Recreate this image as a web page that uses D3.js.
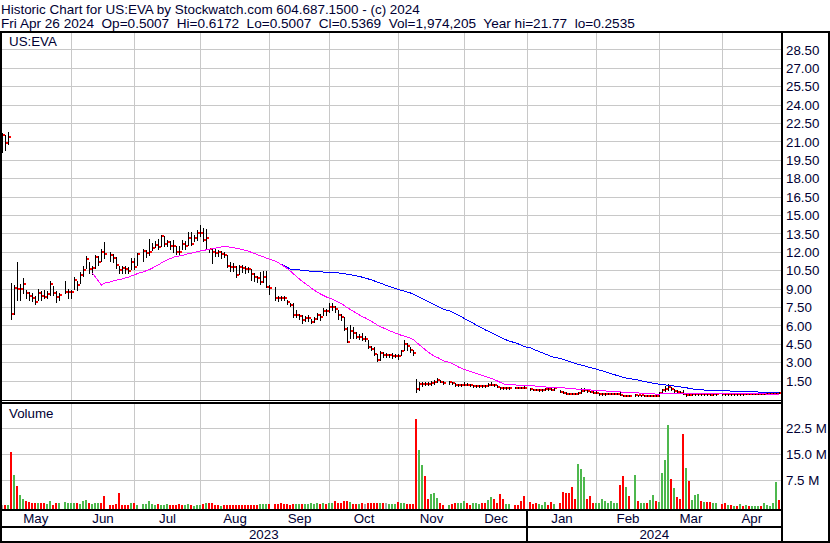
<!DOCTYPE html>
<html><head><meta charset="utf-8">
<script src="https://cdn.jsdelivr.net/npm/d3@7"></script>
<style>
html,body{margin:0;padding:0;background:#fff;}
svg{display:block;}
text{font-family:"Liberation Sans",Arial,sans-serif;font-size:13.33px;fill:#000033;white-space:pre;}
</style>
</head><body><svg id="c" width="830" height="543"></svg>
<script>
const titleLines = [
  "Historic Chart for US:EVA by Stockwatch.com 604.687.1500 - (c) 2024",
  "Fri Apr 26 2024  Op=0.5007  Hi=0.6172  Lo=0.5007  Cl=0.5369  Vol=1,974,205  Year hi=21.77  lo=0.2535"
];
const symbolLabel = "US:EVA";
const volumeLabel = "Volume";
const monthNames = ["May","Jun","Jul","Aug","Sep","Oct","Nov","Dec","Jan","Feb","Mar","Apr"];
const monthGridSlot = [23,44,66,89,109,132,154,175,198,219,240];
const yearNames = ["2023","2024"];
const yearStartSlot = 175;
const slotCount = 260;
const priceTicks = [1.5,3,4.5,6,7.5,9,10.5,12,13.5,15,16.5,18,19.5,21,22.5,24,25.5,27,28.5];
const volumeTicks = [7.5,15,22.5];
const maShortLen = 30;
const maLongLen = 90;

const high = [
21.7,21.6,21.77,9.5,9.3,11.2,9.4,9.9,8.9,8.8,
8.65,8.4,9.0,8.85,8.95,8.85,9.7,9.25,8.85,8.65,
null,9.7,9.0,8.9,10.0,9.7,10.4,10.9,11.7,11.2,
10.9,11.8,11.7,12.3,12.86,null,12.0,11.9,11.6,10.9,
10.9,10.9,10.8,11.5,11.5,11.95,null,12.25,12.2,13.1,
12.75,12.9,13.1,13.45,13.3,13.0,12.9,12.97,12.5,12.5,
12.97,12.9,13.68,13.68,13.4,13.8,14.22,13.95,13.9,12.3,
12.3,12.3,12.2,12.1,12.0,11.8,11.2,11.1,10.9,11.0,
11.0,10.9,10.8,10.67,10.3,10.1,10.4,10.5,10.5,9.3,
null,9.2,8.4,8.4,8.4,8.1,7.9,7.84,7.3,7.0,
6.9,6.8,6.9,6.6,6.75,7.05,7.0,7.5,7.4,7.84,
7.9,7.6,7.3,6.95,6.75,5.93,6.07,5.93,5.53,5.3,
5.4,5.2,4.85,4.35,4.3,3.75,3.95,3.85,3.8,3.75,
3.8,3.7,3.75,4.05,4.85,4.58,4.3,4.03,1.7,1.4,
1.4,1.45,1.4,1.5,1.55,1.75,1.6,1.5,null,1.5,
1.45,1.35,1.3,1.3,1.4,1.35,1.28,1.22,1.2,1.2,
1.18,1.18,1.35,1.42,1.3,1.2,1.05,1.0,1.0,1.02,
null,1.02,1.0,1.05,1.08,null,0.96,0.88,0.86,0.82,
0.84,0.92,0.9,0.9,0.95,null,0.78,0.66,0.58,0.55,
0.55,0.54,0.6,0.9,0.92,0.8,0.72,0.66,0.7,0.55,
0.5,0.52,0.55,0.55,0.55,0.52,0.6,0.4,0.38,0.34,
null,0.42,0.4,0.4,0.36,0.35,0.34,0.36,0.36,0.65,
0.85,1.1,1.26,1.05,0.88,0.75,0.68,0.75,0.5,0.45,
0.48,0.5,0.5,0.48,0.48,0.47,0.46,0.45,0.46,null,
0.48,0.46,0.48,0.46,0.47,0.45,0.47,0.46,0.48,0.5,
0.51,0.5,0.49,0.48,0.5,0.5,0.5,0.5,0.6,0.6172
];
const low = [
20.2,20.3,20.8,6.6,7.0,8.1,8.1,8.7,8.3,8.1,
8.0,7.8,8.1,8.1,8.25,8.25,8.5,8.5,7.95,8.1,
null,8.65,8.25,8.25,9.0,8.9,9.5,10.1,10.7,10.3,
10.2,10.7,11.0,11.3,11.5,null,11.3,11.2,10.7,10.3,
10.3,10.3,10.3,10.6,10.6,10.95,null,11.3,11.6,11.8,
12.15,12.4,12.3,12.5,12.5,12.5,12.3,12.02,11.9,11.9,
12.3,12.3,12.6,12.57,12.9,13.0,13.35,12.9,12.3,12.0,
11.1,11.7,11.7,11.5,11.6,10.8,10.5,10.5,10.0,10.2,
10.4,10.3,10.4,9.72,9.7,9.6,9.45,9.6,9.2,8.6,
null,8.1,8.05,8.1,8.1,7.8,7.6,6.75,6.75,6.6,
6.2,6.4,6.4,6.2,6.35,6.6,6.5,6.9,6.9,7.1,
7.3,7.1,6.6,6.5,5.66,4.7,4.98,4.98,4.98,4.95,
4.85,4.8,4.17,4.0,3.6,3.1,3.2,3.5,3.5,3.5,
3.4,3.45,3.3,3.6,4.0,4.03,3.9,3.63,0.64,0.8,
1.1,1.2,1.2,1.2,1.3,1.4,1.4,1.3,null,1.3,
1.25,1.12,1.1,1.1,1.15,1.15,1.1,1.05,1.05,1.04,
1.02,1.03,1.08,1.15,1.1,0.98,0.88,0.86,0.88,0.88,
null,0.9,0.9,0.9,0.9,null,0.8,0.75,0.74,0.72,
0.72,0.76,0.78,0.75,0.8,null,0.6,0.52,0.44,0.45,
0.42,0.44,0.44,0.55,0.66,0.65,0.6,0.52,0.5,0.4,
0.38,0.4,0.42,0.44,0.43,0.42,0.35,0.27,0.26,0.26,
null,0.3,0.32,0.3,0.27,0.27,0.2535,0.27,0.28,0.32,
0.55,0.7,0.8,0.75,0.65,0.6,0.52,0.45,0.32,0.35,
0.38,0.4,0.4,0.38,0.4,0.38,0.37,0.37,0.38,null,
0.39,0.38,0.4,0.39,0.4,0.38,0.39,0.4,0.41,0.42,
0.44,0.43,0.42,0.41,0.42,0.43,0.44,0.43,0.45,0.5007
];
const close = [
21.6,20.9,21.4,7.0,9.1,9.0,9.0,9.4,8.7,8.45,
8.3,7.95,8.7,8.45,8.35,8.6,9.45,8.7,8.35,8.5,
null,8.8,8.8,8.8,9.74,9.31,10.15,10.58,11.45,10.64,
10.69,11.64,11.21,12.02,11.89,null,11.8,11.53,10.96,10.56,
10.69,10.61,10.48,11.18,10.83,11.84,null,12.1,11.95,12.0,
12.35,12.6,12.4,13.35,12.65,12.86,12.5,12.5,12.05,12.05,
12.68,12.5,13.19,12.68,13.19,13.6,13.6,13.0,13.17,12.24,
12.05,11.97,12.0,11.88,11.78,10.88,10.8,10.8,10.15,10.8,
10.73,10.61,10.6,10.2,9.99,9.9,9.6,9.99,9.17,9.1,
null,8.27,8.27,8.27,8.27,7.95,7.73,6.86,6.87,6.8,
6.45,6.62,6.62,6.32,6.6,6.89,6.7,7.19,7.19,7.57,
7.57,7.38,6.87,6.72,5.75,4.69,5.58,5.39,5.1,5.1,
4.96,4.96,4.3,4.14,3.74,3.25,3.82,3.63,3.63,3.63,
3.52,3.55,3.52,3.95,4.52,4.36,4.04,3.77,0.88,1.25,
1.27,1.3,1.27,1.32,1.45,1.56,1.45,1.38,null,1.4,
1.33,1.16,1.16,1.16,1.22,1.22,1.16,1.1,1.1,1.1,
1.08,1.1,1.18,1.22,1.16,1.02,0.91,0.91,0.92,0.93,
null,0.95,0.95,0.96,0.95,null,0.83,0.78,0.78,0.75,
0.78,0.83,0.82,0.8,0.9,null,0.64,0.56,0.48,0.48,
0.47,0.48,0.5,0.69,0.75,0.7,0.64,0.56,0.56,0.45,
0.42,0.45,0.48,0.48,0.47,0.46,0.37,0.3,0.28,0.29,
null,0.36,0.36,0.34,0.3,0.3,0.29,0.3,0.31,0.56,
0.75,0.85,1.04,0.85,0.7,0.64,0.56,0.48,0.37,0.4,
0.42,0.45,0.44,0.42,0.44,0.42,0.4,0.41,0.42,null,
0.43,0.42,0.44,0.42,0.43,0.41,0.43,0.42,0.44,0.46,
0.47,0.46,0.45,0.44,0.45,0.46,0.47,0.46,0.56,0.5369
];
// volume in millions of shares
const volume = [
0.45,0.5,0.5,15.7,9.2,5.8,3.2,2.2,1.73,1.4,
1.15,1.15,1.06,0.87,0.87,0.58,1.73,0.29,1.15,0.87,
null,1.44,0.87,1.06,1.15,1.15,0.58,1.54,2.0,0.87,
0.58,0.87,0.87,0.87,2.9,null,0.29,0.29,0.58,4.0,
0.29,0.29,0.29,0.87,0.87,0.29,null,0.58,0.58,1.73,
0.58,0.29,0.58,0.29,0.29,0.58,0.29,0.29,0.29,0.58,
0.29,0.29,0.58,0.29,0.15,0.45,0.29,0.58,0.87,0.87,
0.87,0.29,0.29,0.15,0.29,0.45,0.45,0.45,0.45,0.45,
0.45,0.45,0.45,0.45,0.45,0.45,0.58,0.58,0.58,0.58,
null,0.58,0.58,0.87,0.58,0.58,0.45,0.58,0.58,0.58,
0.58,0.58,0.58,0.87,0.58,0.87,0.58,0.87,0.58,0.87,
0.87,1.73,1.15,1.15,1.73,1.73,1.44,0.58,0.58,0.58,
0.87,0.58,1.15,1.15,1.15,1.15,0.87,0.87,1.15,0.58,
0.58,0.58,1.44,0.87,1.15,0.58,0.58,0.58,25.1,16.2,
11.9,8.7,2.2,3.5,4.0,2.5,1.15,0.29,null,0.29,
0.58,1.15,0.87,1.15,1.73,1.15,0.29,0.87,0.87,0.58,
0.87,0.87,2.0,2.6,2.3,0.87,3.75,2.3,0.58,0.58,
null,0.29,0.29,1.73,2.9,null,1.44,0.58,1.15,0.58,
0.29,1.44,0.29,1.44,0.58,null,0.87,4.3,4.0,4.0,
5.5,2.3,12.4,10.7,8.4,2.3,2.9,1.15,0.87,1.15,
2.3,1.73,1.15,1.73,0.87,1.15,6.3,8.7,5.5,2.9,
null,9.2,1.73,0.87,0.87,0.87,2.0,3.2,1.73,1.44,
9.8,13.3,23.4,7.8,5.2,2.6,2.3,20.8,11.25,7.5,
2.0,3.2,3.75,1.73,1.44,1.44,1.44,1.15,1.15,null,
0.58,0.87,0.29,0.29,0.15,0.15,0.58,0.15,0.29,0.15,
0.15,0.15,0.15,0.15,0.87,0.29,0.15,0.87,7.2,1.97
];
// day direction: 1 up, -1 down, 0 unchanged
const volDir = [
0,-1,1,-1,1,-1,1,1,-1,-1,
-1,-1,1,-1,-1,1,1,-1,-1,1,
0,1,1,1,1,-1,1,1,1,-1,
1,1,1,-1,-1,0,-1,-1,-1,-1,
-1,-1,-1,1,-1,1,0,1,1,1,
1,1,-1,1,1,1,-1,-1,-1,-1,
-1,1,1,-1,1,1,1,-1,1,-1,
-1,-1,-1,1,-1,-1,-1,-1,-1,-1,
-1,-1,-1,-1,-1,-1,1,1,1,-1,
0,-1,-1,-1,-1,-1,-1,-1,1,1,
-1,1,1,1,1,1,-1,1,-1,1,
1,-1,-1,-1,-1,-1,1,-1,-1,1,
-1,0,-1,-1,-1,-1,1,-1,0,1,
1,1,-1,1,1,-1,-1,-1,-1,1,
1,-1,-1,1,1,1,-1,-1,0,1,
-1,-1,1,1,1,-1,-1,1,1,1,
-1,-1,1,1,-1,-1,-1,-1,1,1,
0,-1,-1,-1,-1,0,-1,-1,-1,1,
1,1,-1,-1,1,0,-1,-1,-1,-1,
-1,-1,1,1,1,-1,-1,-1,1,1,
1,1,1,1,1,1,-1,-1,1,-1,
0,1,-1,1,1,-1,1,1,-1,1,
1,1,1,-1,1,-1,-1,-1,1,-1,
1,1,1,-1,1,-1,-1,1,1,0,
-1,-1,1,-1,1,-1,1,-1,1,-1,
1,1,1,-1,1,1,1,1,1,-1
];

const svg = d3.select("#c");
const W = 830, H = 543;
const plotL = 1, plotR = 781;
const priceTop = 32, priceBot = 400;
const volTop = 403, volBot = 509;

const xs = d3.scaleLinear().domain([0, slotCount]).range([plotL, plotR]);
const yP = d3.scaleLinear().domain([0, 30]).range([399.5, 31.5]);
const yV = d3.scaleLinear().domain([0, 30]).range([506.5, 402.5]);

svg.append("rect").attr("width", W).attr("height", H).attr("fill", "#fff");

const grid = svg.append("g").attr("shape-rendering", "crispEdges").attr("stroke", "#c8c8c8").attr("stroke-width", 1);
priceTicks.forEach(t => {
  const y = Math.floor(yP(t)) + 0.5;
  grid.append("line").attr("x1", 2).attr("x2", plotR).attr("y1", y).attr("y2", y);
});
volumeTicks.forEach(t => {
  const y = Math.floor(yV(t)) + 0.5;
  grid.append("line").attr("x1", 2).attr("x2", plotR).attr("y1", y).attr("y2", y);
});
monthGridSlot.forEach(s => {
  const x = Math.floor(xs(s + 0.5)) + 0.5;
  grid.append("line").attr("x1", x).attr("x2", x).attr("y1", priceTop).attr("y2", priceBot);
  grid.append("line").attr("x1", x).attr("x2", x).attr("y1", volTop).attr("y2", volBot);
});

// volume bars
const dirColor = d => d > 0 ? "#4db84d" : (d < 0 ? "#ff0000" : "#a8a8a8");
svg.append("g").attr("shape-rendering", "crispEdges")
  .selectAll("rect").data(volume.map((v, i) => ({v, i})).filter(d => d.v != null))
  .join("rect")
  .attr("x", d => xs(d.i))
  .attr("width", 2)
  .attr("y", d => Math.round(yV(d.v)))
  .attr("height", d => volBot - Math.round(yV(d.v)))
  .attr("fill", d => dirColor(volDir[d.i]));

// price bars
const bars = close.map((c, i) => ({i, c, h: high[i], l: low[i]})).filter(d => d.c != null);
const pg = svg.append("g").attr("shape-rendering", "crispEdges");
pg.selectAll("rect.hl").data(bars).join("rect").attr("class", "hl")
  .attr("x", d => xs(d.i) + 1).attr("width", 1)
  .attr("y", d => Math.round(yP(d.h)))
  .attr("height", d => Math.max(1, Math.round(yP(d.l)) - Math.round(yP(d.h)) + 1))
  .attr("fill", "#000");
pg.selectAll("rect.cl").data(bars).join("rect").attr("class", "cl")
  .attr("x", d => xs(d.i) + 2).attr("width", 2)
  .attr("y", d => Math.round(yP(d.c)) - 1).attr("height", 2)
  .attr("fill", "#ff0000");

// moving averages over trading days
function movingAvg(n) {
  const out = []; const win = []; let sum = 0;
  close.forEach((c, i) => {
    if (c == null) return;
    win.push(c); sum += c;
    if (win.length > n) sum -= win.shift();
    if (win.length === n) out.push([i, sum / n]);
  });
  return out;
}
const line = d3.line().x(d => xs(d[0] + 0.5)).y(d => yP(d[1]));
svg.append("path").attr("d", line(movingAvg(maLongLen))).attr("fill", "none")
  .attr("stroke", "#0000ff").attr("stroke-width", 1).attr("shape-rendering", "crispEdges");
svg.append("path").attr("d", line(movingAvg(maShortLen))).attr("fill", "none")
  .attr("stroke", "#ff00ff").attr("stroke-width", 1).attr("shape-rendering", "crispEdges");

// frames
const fr = svg.append("g").attr("fill", "#000").attr("shape-rendering", "crispEdges");
fr.append("rect").attr("x", 0).attr("y", 31).attr("width", W).attr("height", 2);
fr.append("rect").attr("x", 0).attr("y", 31).attr("width", 2).attr("height", H - 31);
fr.append("rect").attr("x", 781).attr("y", 31).attr("width", 2).attr("height", H - 31);
fr.append("rect").attr("x", 828).attr("y", 31).attr("width", 2).attr("height", H - 31);
fr.append("rect").attr("x", 0).attr("y", 400).attr("width", 783).attr("height", 1);
fr.append("rect").attr("x", 0).attr("y", 402).attr("width", 783).attr("height", 2);
fr.append("rect").attr("x", 0).attr("y", 509).attr("width", 783).attr("height", 2);
fr.append("rect").attr("x", 0).attr("y", 526).attr("width", 783).attr("height", 2);
fr.append("rect").attr("x", 0).attr("y", 541).attr("width", W).attr("height", 2);
fr.append("rect").attr("x", Math.floor(xs(yearStartSlot + 0.5)) - 1).attr("y", 509).attr("width", 2).attr("height", 34);

// texts
const tg = svg.append("g");
tg.append("text").attr("x", 1).attr("y", 14).style("font-size", "13.45px").text(titleLines[0]);
tg.append("text").attr("x", 1).attr("y", 27.5).style("font-size", "13.6px").text(titleLines[1]);
tg.append("text").attr("x", 9).attr("y", 46).text(symbolLabel);
tg.append("text").attr("x", 9).attr("y", 418).text(volumeLabel);
const pf = d3.format(".2f");
priceTicks.forEach(t => tg.append("text").attr("x", 786).attr("y", yP(t) + 4.7).text(pf(t)));
const vf = d3.format(".1f");
volumeTicks.forEach(t => tg.append("text").attr("x", 786).attr("y", yV(t) + 4.7).text(vf(t) + " M"));
const bounds = [0, ...monthGridSlot.map(s => xs(s + 0.5)), plotR];
monthNames.forEach((m, k) => {
  tg.append("text").attr("x", (bounds[k] + bounds[k + 1]) / 2).attr("y", 523)
    .attr("text-anchor", "middle").text(m);
});
const yb = [0, xs(yearStartSlot + 0.5), plotR];
yearNames.forEach((y, k) => {
  tg.append("text").attr("x", (yb[k] + yb[k + 1]) / 2).attr("y", 539)
    .attr("text-anchor", "middle").text(y);
});
</script>
</body></html>
